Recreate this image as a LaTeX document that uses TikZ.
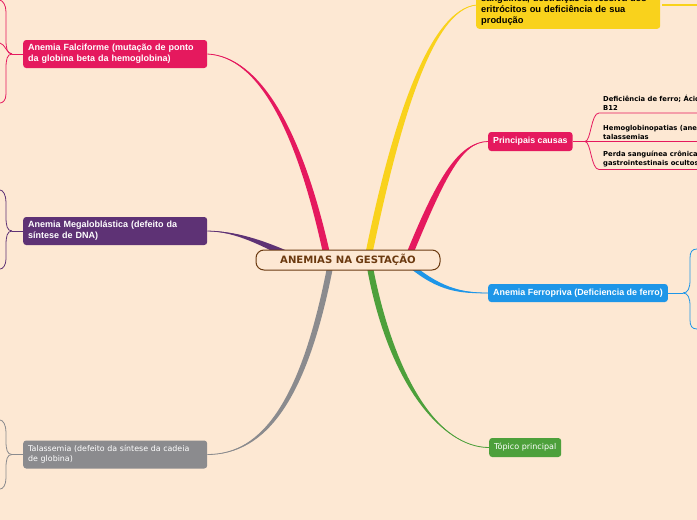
\documentclass[tikz,border=0pt]{standalone}
\usepackage{fontspec}
\setmainfont{Liberation Sans}
\newfontfamily\dvs{DejaVu Sans}
\definecolor{bgc}{HTML}{FDE8D3}
\definecolor{pinkc}{HTML}{E5195E}
\definecolor{purc}{HTML}{5E3275}
\definecolor{grayc}{HTML}{8B8B8E}
\definecolor{yelc}{HTML}{F9D21C}
\definecolor{bluec}{HTML}{1E96E8}
\definecolor{grnc}{HTML}{4DA03B}
\definecolor{brownc}{HTML}{6B3A10}
\begin{document}
\begin{tikzpicture}[x=1pt,y=-1pt,
  topic/.style={rounded corners=3pt, anchor=west, text=white, align=left,
    font=\bfseries\fontsize{9}{11}\selectfont, inner xsep=5pt, inner ysep=4pt},
  widebox/.style={text width=174pt, minimum height=28pt},
  subtxt/.style={anchor=south west, inner sep=0pt, align=left, text=black,
    font=\dvs\bfseries\fontsize{6.8}{9}\selectfont},
  thin/.style={line width=0.8pt}]
\useasboundingbox (0,0) rectangle (697,520);
\clip (0,0) rectangle (697,520);
\fill[bgc] (0,0) rectangle (697,520);

% main topics
\node[topic, widebox, fill=pinkc] (f) at (23,54) {Anemia Falciforme (mutação de ponto\\da globina beta da hemoglobina)};
\node[topic, widebox, fill=purc] (m) at (23,231) {Anemia Megaloblástica (defeito da\\síntese de DNA)};
\node[topic, widebox, fill=grayc, font=\dvs\fontsize{7.9}{10}\selectfont] (t) at (23,454.5) {Talassemia (defeito da síntese da cadeia\\de globina)};
\node[topic, fill=yelc, text=black, anchor=south west, text width=174pt, inner ysep=3.5pt,
  font=\bfseries\fontsize{9.3}{10.7}\selectfont] (yl) at (476,29) {sanguínea, destruição excessiva dos\\eritrócitos ou deficiência de sua\\produção};
\node[topic, fill=pinkc, minimum height=19pt, font=\bfseries\fontsize{8.8}{10}\selectfont] (p) at (488,141.5) {Principais causas};
\node[topic, fill=bluec, minimum height=18pt, font=\bfseries\fontsize{8.9}{10}\selectfont] (fp) at (488,293) {Anemia Ferropriva (Deficiencia de ferro)};
\node[topic, fill=grnc, minimum height=19pt, font=\dvs\fontsize{8}{9}\selectfont] (tp) at (489,447.5) {Tópico principal};

% named ends
\coordinate (ye) at (477,5);

% tapered branches from centre
\fill[pinkc] (324,258) .. controls (297,130) and (258,57) .. (f.east) .. controls (260,56) and (303,130) .. (331,258) -- cycle;
\draw[pinkc,thin] (327.5,258) .. controls (300,130) and (259,56.5) .. (f.east);
\fill[yelc] (364.5,258) .. controls (390,130) and (428,8) .. (ye) .. controls (431,9) and (398,130) .. (371.5,258) -- cycle;
\draw[yelc,thin] (368,258) .. controls (394,130) and (430,8) .. (ye);
\fill[pinkc] (404.5,258) .. controls (436,180) and (458,141.5) .. (p.west) .. controls (461,141.5) and (443,182) .. (411.5,258) -- cycle;
\draw[pinkc,thin] (408,258) .. controls (440,181) and (460,141.5) .. (p.west);
\fill[purc] (290,252) .. controls (262,240) and (236,231) .. (m.east) .. controls (236,232) and (260,245) .. (286,258) -- cycle;
\draw[purc,thin] (288,255) .. controls (261,242) and (236,231.5) .. (m.east);
\fill[grayc] (328,262) .. controls (302,400) and (262,454.5) .. (t.east) .. controls (266,455) and (308,400) .. (334,262) -- cycle;
\draw[grayc,thin] (331,262) .. controls (305,400) and (264,454.5) .. (t.east);
\fill[grnc] (366,262) .. controls (386,380) and (440,447.5) .. (tp.west) .. controls (440,448) and (394,380) .. (372,262) -- cycle;
\draw[grnc,thin] (369,262) .. controls (390,380) and (440,447.5) .. (tp.west);
\fill[bluec] (410,262) .. controls (438,286) and (460,293) .. (fp.west) .. controls (460,294) and (438,291) .. (410,268) -- cycle;
\draw[bluec,thin] (410,265) .. controls (438,288) and (460,293) .. (fp.west);

% centre
\node[draw=brownc, line width=1pt, fill=bgc, rounded corners=8pt, minimum width=184pt,
  minimum height=20pt, inner sep=0pt, text=brownc, font=\dvs\bfseries\fontsize{10.1}{12}\selectfont] (c) at (348,260) {ANEMIAS NA GESTAÇÃO};

% sub branches of Principais causas
\coordinate (pk) at (585,141.5);
\coordinate (r1) at (697,113);
\coordinate (r2) at (697,141.5);
\coordinate (r3) at (697,169.5);
\draw[pinkc,thin] (p.east) -- (pk);
\draw[pinkc,thin] (pk) .. controls (591,141.5) and (591,113) .. (599,113) -- (r1);
\draw[pinkc,thin] (pk) -- (r2);
\draw[pinkc,thin] (pk) .. controls (591,141.5) and (591,169.5) .. (599,169.5) -- (r3);
\node[subtxt] (s1) at (603,111) {Deficiência de ferro; Ácido fólico e vitamina\\B12};
\node[subtxt] (s2) at (603,139.5) {Hemoglobinopatias (anemia falciforme e\\talassemias};
\node[subtxt] (s3) at (603,167.5) {Perda sanguínea crônica (sangramentos\\gastrointestinais ocultos)};

% yellow continuation
\coordinate (yr) at (697,5);
\draw[yelc,line width=1.2pt] ([xshift=2pt]yl.east |- ye) -- (yr);

% sub branches of Ferropriva
\coordinate (bk) at (683,293);
\coordinate (b1) at (697,249);
\coordinate (b2) at (697,329);
\draw[bluec,thin] (fp.east) -- (bk);
\draw[bluec,thin] (bk) .. controls (688,293) and (690,288) .. (690,280) -- (690,258) .. controls (690,252) and (692,249) .. (b1);
\draw[bluec,thin] (bk) .. controls (688,293) and (690,298) .. (690,306) -- (690,320) .. controls (690,326) and (692,329) .. (b2);

% left forks
\coordinate (fk) at (12,54);
\coordinate (l1) at (0,0);
\coordinate (l2) at (0,43);
\coordinate (l3) at (0,103);
\draw[pinkc,thin] (f.west) -- (fk);
\draw[pinkc,thin] (fk) .. controls (7,54) and (6,48) .. (6,40) -- (6,12) .. controls (6,5) and (3,1) .. (l1);
\draw[pinkc,thin] (fk) .. controls (7,54) and (5,44) .. (l2);
\draw[pinkc,thin] (fk) .. controls (7,54) and (6,60) .. (6,68) -- (6,94) .. controls (6,100) and (3,103) .. (l3);

\coordinate (mk) at (12,231);
\coordinate (m1) at (0,190);
\coordinate (m2) at (0,269);
\draw[purc,thin] (m.west) -- (mk);
\draw[purc,thin] (mk) .. controls (7,231) and (6,225) .. (6,217) -- (6,202) .. controls (6,195) and (3,190) .. (m1);
\draw[purc,thin] (mk) .. controls (7,231) and (6,237) .. (6,245) -- (6,259) .. controls (6,265) and (3,269) .. (m2);

\coordinate (tk) at (12,454.5);
\coordinate (t1) at (0,420);
\coordinate (t2) at (0,489);
\draw[grayc,thin] (t.west) -- (tk);
\draw[grayc,thin] (tk) .. controls (7,454.5) and (6,449) .. (6,441) -- (6,432) .. controls (6,425) and (3,420) .. (t1);
\draw[grayc,thin] (tk) .. controls (7,454.5) and (6,460) .. (6,468) -- (6,478) .. controls (6,485) and (3,489) .. (t2);
\end{tikzpicture}
\end{document}
